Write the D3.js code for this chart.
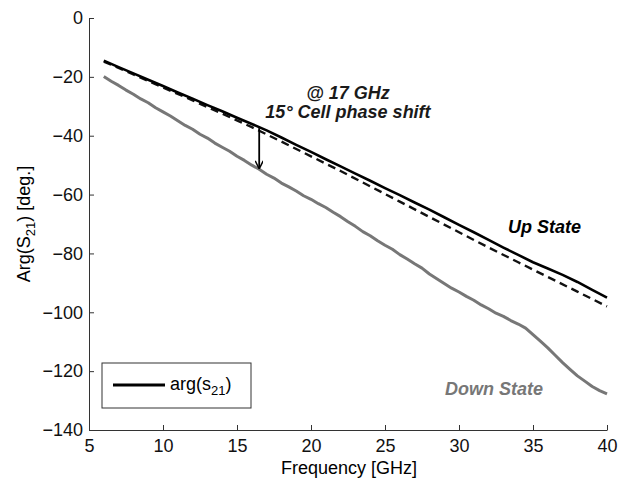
<!DOCTYPE html>
<html>
<head>
<meta charset="utf-8">
<script src="https://cdn.jsdelivr.net/npm/d3@7"></script>
<style>
  html, body { margin: 0; padding: 0; background: #fff; }
  svg { display: block; font-family: "Liberation Sans", Arial, sans-serif; }
  .axis path, .axis line { stroke: #333; stroke-width: 1; }
  .axis text { fill: #111; font-size: 18px; }
</style>
</head>
<body>
<svg id="chart" width="619" height="479"></svg>
<script>
"use strict";

// frequency grid of the measured traces [GHz]
const freqUp = [6,7,8,9,10,11,12,13,14,15,16,17,18,19,20,21,22,23,24,25,26,27,28,29,30,31,32,33,34,35,36,37,38,39,40];
// measured arg(S21), up state [deg]
const upState = [-14.5,-16.7,-18.8,-21.0,-23.1,-25.3,-27.4,-29.6,-31.7,-33.9,-36.0,-38.2,-40.6,-43.1,-45.5,-48.0,-50.4,-52.9,-55.3,-57.8,-60.2,-62.7,-65.1,-67.7,-70.3,-72.8,-75.4,-78.0,-80.5,-83.0,-85.1,-87.3,-89.7,-92.4,-95.0];

// simulated (dashed) up state
const freqSim = [6,8,10,12,14,16,18,20,22,24,26,28,30,32,34,36,38,40];
const simState = [-14.8,-19.2,-23.6,-28.0,-32.5,-37.1,-42.0,-47.0,-52.0,-57.2,-62.4,-67.6,-72.8,-78.0,-83.0,-88.0,-93.0,-98.0];

// measured down state, half-GHz steps
const freqDown = [6,6.5,7,7.5,8,8.5,9,9.5,10,10.5,11,11.5,12,12.5,13,13.5,14,14.5,15,15.5,16,16.5,17,17.5,18,18.5,19,19.5,20,20.5,21,21.5,22,22.5,23,23.5,24,24.5,25,25.5,26,26.5,27,27.5,28,28.5,29,29.5,30,30.5,31,31.5,32,32.5,33,33.5,34,34.5,35,35.5,36,36.5,37,37.5,38,38.5,39,39.5,40];
const downState = [-19.9,-21.5,-22.9,-24.5,-25.9,-27.5,-28.8,-30.5,-31.9,-33.3,-34.9,-36.5,-37.8,-39.5,-40.8,-42.5,-43.9,-45.3,-47.0,-48.4,-50.0,-51.4,-53.1,-54.4,-56.1,-57.4,-58.8,-60.4,-61.6,-63.1,-64.4,-66.0,-67.5,-69.2,-70.8,-72.6,-74.0,-75.7,-77.2,-78.6,-80.4,-81.9,-83.5,-85.0,-87.0,-88.6,-90.2,-91.8,-93.1,-94.6,-95.9,-97.5,-98.8,-100.3,-101.4,-102.8,-104.0,-105.4,-107.6,-109.8,-112.1,-114.6,-117.1,-119.4,-121.6,-123.4,-125.2,-126.6,-127.7];

// axis ticks
const xTicks = [5,10,15,20,25,30,35,40];
const yTicks = [0,-20,-40,-60,-80,-100,-120,-140];

// annotation: phase shift arrow at this frequency, from up to down trace
const arrowFreq = 16.5;
const arrowFrom = -37.4;
const arrowTo = -51.0;

const svg = d3.select("#chart");

const x = d3.scaleLinear().domain([5, 40]).range([89, 607]);
const y = d3.scaleLinear().domain([-140, 0]).range([430, 18]);

// axes (ticks point inward, matlab style, no box)
svg.append("g")
    .attr("class", "axis")
    .attr("transform", "translate(0," + y(-140) + ")")
    .call(d3.axisBottom(x).tickValues(xTicks).tickSize(-5).tickSizeOuter(0).tickPadding(9));

svg.append("g")
    .attr("class", "axis")
    .attr("transform", "translate(" + x(5) + ",0)")
    .call(d3.axisLeft(y).tickValues(yTicks).tickSize(-5).tickSizeOuter(0).tickPadding(6));

// axis labels
svg.append("text")
    .attr("x", 349).attr("y", 474)
    .attr("text-anchor", "middle")
    .style("font-size", "18px")
    .text("Frequency [GHz]");

const yl = svg.append("text")
    .attr("transform", "translate(30," + y(-70) + ") rotate(-90)")
    .attr("text-anchor", "middle")
    .style("font-size", "18px");
yl.append("tspan").text("Arg(S");
yl.append("tspan").attr("dy", 5).style("font-size", "13px").text("21");
yl.append("tspan").attr("dy", -5).text(") [deg.]");

// traces
const line = d3.line()
    .x(d => x(d[0]))
    .y(d => y(d[1]));

svg.append("path")
    .datum(d3.zip(freqDown, downState))
    .attr("d", line)
    .attr("fill", "none")
    .attr("stroke", "#777")
    .attr("stroke-width", 3)
    .attr("stroke-linejoin", "round");

svg.append("path")
    .datum(d3.zip(freqSim, simState))
    .attr("d", line)
    .attr("fill", "none")
    .attr("stroke", "#111")
    .attr("stroke-width", 2.4)
    .attr("stroke-dasharray", "8,5");

svg.append("path")
    .datum(d3.zip(freqUp, upState))
    .attr("d", line)
    .attr("fill", "none")
    .attr("stroke", "#000")
    .attr("stroke-width", 2.6)
    .attr("stroke-linejoin", "round");

// arrow
svg.append("defs").append("marker")
    .attr("id", "head")
    .attr("viewBox", "0 0 10 10")
    .attr("refX", 9).attr("refY", 5)
    .attr("markerWidth", 9).attr("markerHeight", 8)
    .attr("markerUnits", "userSpaceOnUse")
    .attr("orient", "auto")
    .append("path")
    .attr("d", "M0,0 L10,5 L0,10")
    .attr("fill", "none")
    .attr("stroke", "#000")
    .attr("stroke-width", 1.8);

svg.append("line")
    .attr("x1", x(arrowFreq)).attr("x2", x(arrowFreq))
    .attr("y1", y(arrowFrom)).attr("y2", y(arrowTo))
    .attr("stroke", "#000")
    .attr("stroke-width", 1.8)
    .attr("marker-end", "url(#head)");

// annotations
const note = svg.append("g")
    .style("font-size", "18px")
    .style("font-weight", "bold")
    .style("font-style", "italic")
    .attr("fill", "#1a1a1a");
note.append("text").attr("x", 348).attr("y", 99).attr("text-anchor", "middle").text("@ 17 GHz");
note.append("text").attr("x", 348).attr("y", 118).attr("text-anchor", "middle").text("15\u00b0 Cell phase shift");

svg.append("text")
    .attr("x", 508).attr("y", 233)
    .style("font-size", "18px").style("font-weight", "bold").style("font-style", "italic")
    .attr("fill", "#000")
    .text("Up State");

svg.append("text")
    .attr("x", 445).attr("y", 395)
    .style("font-size", "18px").style("font-weight", "bold").style("font-style", "italic")
    .attr("fill", "#777")
    .text("Down State");

// legend
const lg = svg.append("g");
lg.append("rect")
    .attr("x", 102).attr("y", 363)
    .attr("width", 149).attr("height", 45)
    .attr("fill", "#fff")
    .attr("stroke", "#333")
    .attr("stroke-width", 1);
lg.append("line")
    .attr("x1", 113).attr("x2", 165)
    .attr("y1", 385).attr("y2", 385)
    .attr("stroke", "#000")
    .attr("stroke-width", 2.8);
const lt = lg.append("text")
    .attr("x", 170).attr("y", 390)
    .style("font-size", "18px");
lt.append("tspan").text("arg(s");
lt.append("tspan").attr("dy", 5).style("font-size", "13px").text("21");
lt.append("tspan").attr("dy", -5).text(")");
</script>
</body>
</html>
